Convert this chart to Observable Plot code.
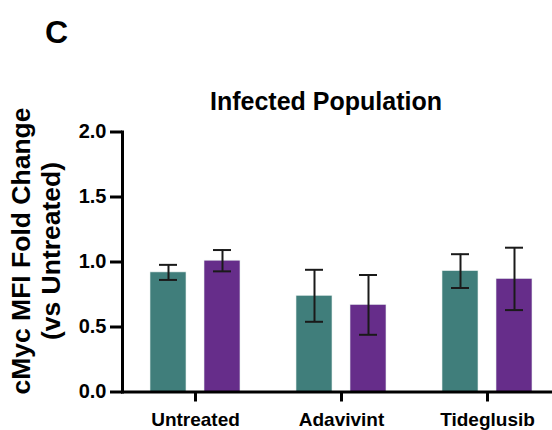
<!DOCTYPE html>
<html>
<head>
<meta charset="utf-8">
<script src="https://cdn.jsdelivr.net/npm/d3@7"></script>
<script src="https://cdn.jsdelivr.net/npm/@observablehq/plot@0.6"></script>
<style>
  html, body { margin: 0; padding: 0; background: #fff; }
  #wrap { position: relative; width: 552px; height: 430px; font-family: "Liberation Sans", Arial, sans-serif; color: #000; overflow: hidden; }
  #wrap svg { position: absolute; left: 0; top: 0; }
  .panel { position: absolute; left: 45px; top: 13px; font-size: 32px; font-weight: bold; line-height: 38px; }
  .title { position: absolute; left: 160px; width: 332px; text-align: center; top: 86px; font-size: 25px; font-weight: bold; line-height: 30px; }
  .ylab { position: absolute; left: 36px; top: 251px; width: 340px; height: 60px; margin-left: -170px; margin-top: -30px;
          transform: rotate(-90deg); text-align: center; font-size: 26.5px; font-weight: bold; line-height: 30px; }
</style>
</head>
<body>
<div id="wrap">
  <div class="panel">C</div>
  <div class="title">Infected Population</div>
  <div class="ylab">cMyc MFI Fold Change<br>(vs Untreated)</div>
</div>
<script>
const categories = ["Untreated", "Adavivint", "Tideglusib"];
const series = ["Series 1", "Series 2"];
const series1Values = [0.92, 0.74, 0.93];
const series1Errors = [0.058, 0.20, 0.13];
const series2Values = [1.01, 0.67, 0.87];
const series2Errors = [0.082, 0.23, 0.24];
const yTicks = [0, 0.5, 1.0, 1.5, 2.0];

const rows = [];
categories.forEach((c, i) => {
  rows.push({category: c, series: series[0], value: series1Values[i], err: series1Errors[i]});
  rows.push({category: c, series: series[1], value: series2Values[i], err: series2Errors[i]});
});

const font = "Liberation Sans, Arial, sans-serif";
const errStyle = {fx: "category", x: "series", stroke: "#1a1a1a", strokeWidth: 2};
const chart = Plot.plot({
  width: 552,
  height: 430,
  marginLeft: 131,
  marginRight: 0,
  marginTop: 131.5,
  marginBottom: 38.5,
  style: {fontFamily: font, color: "#000", background: "transparent"},
  fx: {domain: categories, range: [120.75, 560.25], padding: 0, label: null},
  x: {domain: series, axis: null, paddingInner: 0.327, paddingOuter: 0.495},
  y: {domain: [0, 2], label: null},
  color: {domain: series, range: ["#407e7b", "#662d8a"]},
  marks: [
    Plot.barY(rows, {fx: "category", x: "series", y: "value", fill: "series", stroke: "#e8f0ee", strokeWidth: 0.6}),
    Plot.ruleX(rows, {...errStyle, y1: d => d.value - d.err, y2: d => d.value + d.err}),
    Plot.tickY(rows, {...errStyle, y: d => d.value - d.err, insetLeft: 9, insetRight: 9}),
    Plot.tickY(rows, {...errStyle, y: d => d.value + d.err, insetLeft: 9, insetRight: 9}),
    Plot.axisY({ticks: yTicks, tickFormat: d3.format(".1f"), tickSize: 12, tickPadding: 4, strokeWidth: 3, fontSize: 20, fontWeight: "bold", label: null}),
    Plot.axisFx({anchor: "bottom", tickSize: 10, tickPadding: 10, strokeWidth: 3, fontSize: 19, fontWeight: "bold", label: null}),
    Plot.frame({anchor: "bottom", facet: "super", strokeWidth: 3}),
    Plot.frame({anchor: "left", facet: "super", strokeWidth: 3})
  ]
});
document.getElementById("wrap").prepend(chart);
</script>
</body>
</html>
